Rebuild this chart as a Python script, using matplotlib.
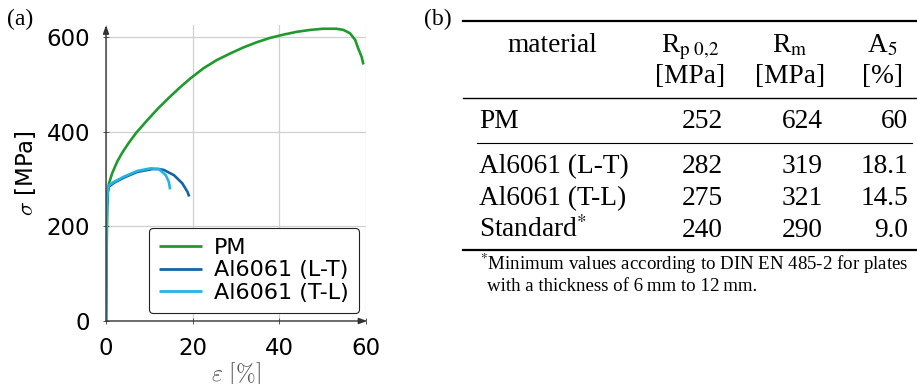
import matplotlib
matplotlib.use("Agg")
import matplotlib.pyplot as plt
from matplotlib.lines import Line2D

# ---------------- data ----------------
pm_strain = [0, 0.15, 0.3, 0.45, 0.69, 1.46, 2.6, 3.77, 5.3, 7.0, 9.5, 12.0, 14.5, 17.0,
             19.4, 22.5, 25.5, 28.6, 31.7, 34.8, 37.8, 40.9, 44.0, 47.1, 50.1, 53.2,
             54.8, 56.3, 57.5, 58.2, 59.0, 59.4]
pm_stress = [0, 150, 240, 276, 291, 313, 337, 356, 377, 398, 424, 449, 471.5, 493,
             512, 534, 551, 565, 578, 589, 598, 605, 611, 615, 617.5, 617.5,
             615, 608, 594, 576, 558, 542]

lt_strain = [0, 0.1, 0.2, 0.4, 0.69, 1.85, 4.15, 7.2, 10.7, 12.2, 13.4, 15.7, 17.6, 18.8, 19.2]
lt_stress = [0, 170, 245, 272, 284, 292, 303, 315, 321, 321, 319, 308, 291, 273, 263]

tl_strain = [0, 0.1, 0.2, 0.4, 0.69, 1.85, 4.15, 7.2, 10.3, 12.2, 13.8, 14.5, 14.8]
tl_stress = [0, 170, 245, 274, 287, 294, 305, 317, 322.6, 321, 308, 294, 278]

series_labels = ["PM", "Al6061 (L-T)", "Al6061 (T-L)"]
series_colors = ["#1f9a2c", "#1565a6", "#22b4e3"]

x_ticks = [0, 20, 40, 60]
y_ticks = [0, 200, 400, 600]

table_header = ["material", r"R$_{\mathrm{p\ 0{,}2}}$", r"R$_{\mathrm{m}}$", r"A$_{5}$"]
table_units = ["", "[MPa]", "[MPa]", r"[%]"]
table_materials = ["PM", "Al6061 (L-T)", "Al6061 (T-L)", r"Standard$^{*}$"]
table_rp02 = ["252", "282", "275", "240"]
table_rm = ["624", "319", "321", "290"]
table_a5 = ["60", "18.1", "14.5", "9.0"]
footnote = [r"$^{*}$Minimum values according to DIN EN 485-2 for plates",
            "with a thickness of 6\u2009mm to 12\u2009mm."]

# ---------------- figure ----------------
W, H = 917, 384
fig = plt.figure(figsize=(W / 100, H / 100), dpi=100)

def fx(px):
    return px / W

def fy(py):
    return 1 - py / H

ymax = 625
ax = fig.add_axes([fx(106), fy(321), fx(366) - fx(106), 295.8 / H])
ax.set_xlim(0, 60)
ax.set_ylim(0, ymax)

for s, e, lab, col in zip([pm_strain, lt_strain, tl_strain],
                          [pm_stress, lt_stress, tl_stress],
                          series_labels, series_colors):
    ax.plot(s, e, color=col, lw=1.9, label=lab, solid_capstyle="butt",
            solid_joinstyle="round", zorder=3)

for sp in ax.spines.values():
    sp.set_visible(False)
ax.grid(True, color="#d0d0d0", lw=0.9)
ax.set_axisbelow(True)
ax.set_xticks(x_ticks)
ax.set_yticks(y_ticks)
ax.tick_params(direction="inout", length=5, width=0.7, color="#555555",
               labelsize=16.5, pad=9)
ax.annotate("", xy=(60.3, 0), xytext=(0, 0), xycoords="data",
            arrowprops=dict(arrowstyle="-|>,head_length=0.5,head_width=0.18",
                            color="#333333", lw=1.0, shrinkA=0, shrinkB=0),
            annotation_clip=False, zorder=4)
ax.annotate("", xy=(0, ymax), xytext=(0, 0), xycoords="data",
            arrowprops=dict(arrowstyle="-|>,head_length=0.5,head_width=0.18",
                            color="#333333", lw=1.0, shrinkA=0, shrinkB=0),
            annotation_clip=False, zorder=4)

ax.set_xlabel(r"$\varepsilon\ [\%]$", fontsize=17, color="#555555", labelpad=0,
              math_fontfamily="cm")
ax.set_ylabel(r"$\sigma$ [MPa]", fontsize=16.5, labelpad=6, math_fontfamily="cm")

leg = ax.legend(loc="lower right", bbox_to_anchor=(0.973, 0.027), borderaxespad=0,
                fontsize=16, frameon=True, fancybox=True, framealpha=1,
                edgecolor="#222222", handlelength=1.95, handletextpad=0.55,
                labelspacing=0.12, borderpad=0.45)
leg.get_frame().set_linewidth(0.8)
for h in leg.get_lines():
    h.set_linewidth(2.0)

serif = "Liberation Serif"
fig.text(fx(7), fy(25), "(a)", fontsize=17, family=serif, va="baseline")
fig.text(fx(424), fy(25), "(b)", fontsize=17, family=serif, va="baseline")

# ---------------- table ----------------
tfs = 19.7
def rule(y, x0, x1, lw):
    fig.add_artist(Line2D([fx(x0), fx(x1)], [fy(y), fy(y)], color="black", lw=lw,
                          transform=fig.transFigure))

rule(21, 463, 917, 1.6)
rule(98, 463, 917, 1.0)
rule(143, 477, 912, 0.8)
rule(250, 463, 917, 1.6)

col_centers = [552, 690, 790, 882]
for c, h, u in zip(col_centers, table_header, table_units):
    fig.text(fx(c), fy(52), h, fontsize=tfs, family=serif, ha="center", va="baseline",
             math_fontfamily="stix")
    if u:
        fig.text(fx(c), fy(83), u, fontsize=tfs, family=serif, ha="center", va="baseline")

row_base = [128, 173, 205, 237]
for yb, m, a, b, c in zip(row_base, table_materials, table_rp02, table_rm, table_a5):
    fig.text(fx(479), fy(yb), m, fontsize=tfs, family=serif, ha="left", va="baseline",
             math_fontfamily="stix")
    fig.text(fx(723), fy(yb), a, fontsize=tfs, family=serif, ha="right", va="baseline")
    fig.text(fx(823), fy(yb), b, fontsize=tfs, family=serif, ha="right", va="baseline")
    fig.text(fx(908), fy(yb), c, fontsize=tfs, family=serif, ha="right", va="baseline")

fig.text(fx(480), fy(270), footnote[0], fontsize=13.6, family=serif, va="baseline",
         math_fontfamily="stix")
fig.text(fx(487), fy(291), footnote[1], fontsize=13.6, family=serif, va="baseline")

fig.savefig("out.png", dpi=100)
